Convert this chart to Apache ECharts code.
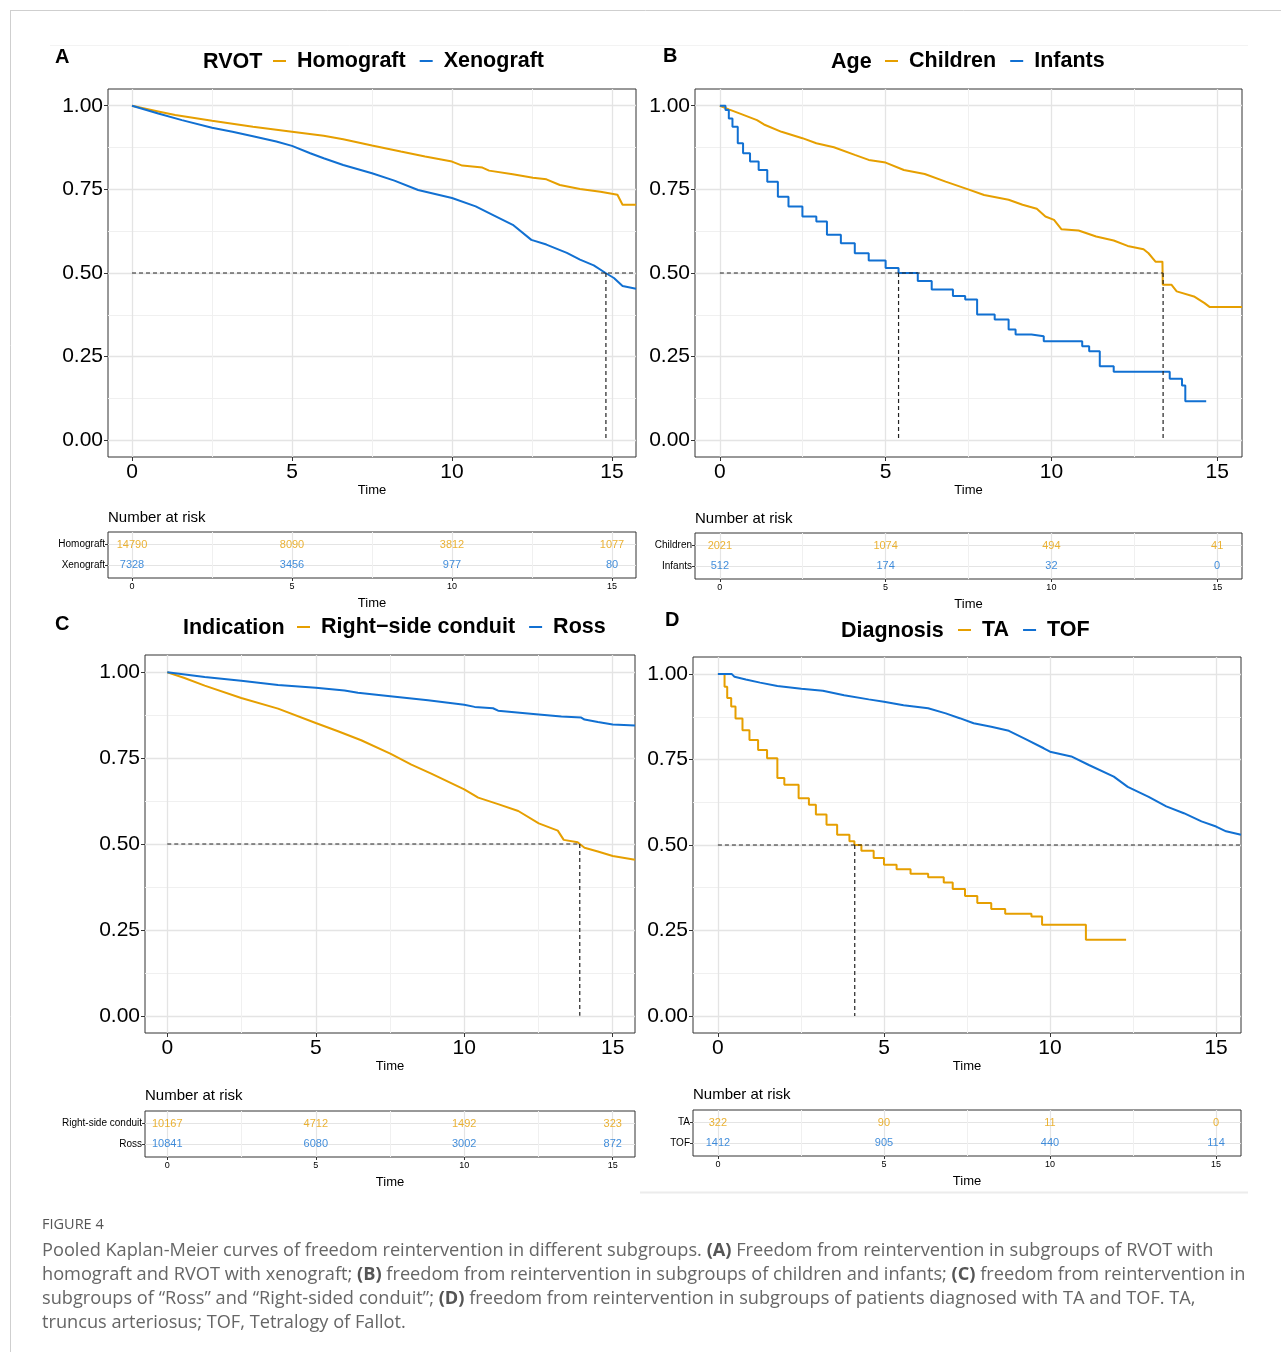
<!DOCTYPE html>
<html>
<head>
<meta charset="utf-8">
<script src="https://cdn.jsdelivr.net/npm/echarts@6/dist/echarts.min.js"></script>
<style>
html,body{margin:0;padding:0;background:#fff;}
#chart{width:1281px;height:1352px;}
</style>
</head>
<body>
<div id="chart"></div>
<script>
// ---------------- DATA ----------------
const xTicks = [0, 5, 10, 15];
const xMinorTicks = [2.5, 7.5, 12.5];
const yTicks = [0, 0.25, 0.5, 0.75, 1];
const yMinorTicks = [0.125, 0.375, 0.625, 0.875];
const riskTimes = [0, 5, 10, 15];

// Panel A: RVOT
const titleA = 'RVOT';
const groupsA = ['Homograft', 'Xenograft'];
const tA_homo = [0,0.82,1.35,2.5,3.78,5,5.99,6.6,7.5,8.4,9.16,10,10.32,10.95,11.16,11.9,12.53,12.95,13.37,14.0,14.64,15.17,15.33,15.75];
const sA_homo = [1,0.983,0.972,0.955,0.937,0.922,0.910,0.900,0.881,0.863,0.848,0.833,0.821,0.815,0.806,0.795,0.785,0.780,0.763,0.751,0.743,0.734,0.704,0.704];
const tA_xeno = [0,0.82,1.56,2.5,3.14,3.78,4.51,5,5.57,5.99,6.6,7.5,8.2,8.94,10,10.74,11.27,11.9,12.48,12.95,13.59,14.0,14.43,14.8,15.06,15.33,15.75];
const sA_xeno = [1,0.977,0.957,0.934,0.922,0.909,0.893,0.880,0.858,0.843,0.823,0.798,0.776,0.748,0.724,0.699,0.674,0.644,0.599,0.585,0.560,0.540,0.523,0.500,0.485,0.461,0.453];
const riskA_homo = [14790, 8090, 3812, 1077];
const riskA_xeno = [7328, 3456, 977, 80];
const medianA = [14.81];

// Panel B: Age
const titleB = 'Age';
const groupsB = ['Children', 'Infants'];
const tB_ch = [0,0.27,0.59,1.12,1.33,1.86,2.49,2.91,3.44,4.07,4.49,5,5.55,6.18,6.81,7.49,7.97,8.71,9.13,9.56,9.82,10.08,10.3,10.82,11.35,11.88,12.3,12.78,12.93,13.14,13.35,13.36,13.62,13.78,14.3,14.62,14.78,15.75];
const sB_ch = [1,0.989,0.977,0.957,0.944,0.922,0.903,0.888,0.876,0.853,0.838,0.830,0.808,0.796,0.773,0.750,0.733,0.719,0.704,0.692,0.669,0.659,0.631,0.627,0.609,0.597,0.581,0.571,0.559,0.534,0.534,0.465,0.465,0.445,0.43,0.41,0.398,0.398];
const tB_inf = [0,0.17,0.27,0.38,0.54,0.7,0.91,1.17,1.43,1.75,2.07,2.49,2.91,3.23,3.65,4.07,4.49,5,5.39,5.97,6.39,7.03,7.4,7.76,8.29,8.71,8.92,9.4,9.77,10.93,11.14,11.46,11.88,13.57,13.94,14.04,14.67];
const sB_inf = [1,0.987,0.962,0.937,0.888,0.858,0.833,0.808,0.773,0.728,0.699,0.669,0.654,0.614,0.589,0.559,0.537,0.515,0.50,0.476,0.451,0.431,0.421,0.376,0.361,0.331,0.316,0.311,0.296,0.281,0.266,0.221,0.205,0.184,0.164,0.117,0.117];
const riskB_ch = [2021, 1074, 494, 41];
const riskB_inf = [512, 174, 32, 0];
const medianB = [13.37, 5.39];

// Panel C: Indication
const titleC = 'Indication';
const groupsC = ['Right\u2212side conduit', 'Ross'];
const rowsC = ['Right-side conduit', 'Ross'];
const tC_rsc = [0,0.58,1.26,2.49,3.73,5,5.75,6.53,7.51,8.22,8.89,10,10.47,11.14,11.82,12.51,13.15,13.35,13.82,13.89,14.05,14.5,15,15.75];
const sC_rsc = [1,0.983,0.961,0.925,0.894,0.852,0.828,0.802,0.763,0.731,0.705,0.659,0.635,0.616,0.596,0.560,0.539,0.512,0.505,0.500,0.489,0.478,0.465,0.454];
const tC_ross = [0,1.26,2.49,3.73,5,5.97,6.42,7.51,8.78,10,10.35,10.97,11.14,12.51,13.27,13.94,14.05,14.5,15,15.75];
const sC_ross = [1,0.986,0.975,0.963,0.955,0.947,0.940,0.930,0.918,0.905,0.899,0.895,0.888,0.877,0.871,0.868,0.862,0.855,0.848,0.845];
const riskC_rsc = [10167, 4712, 1492, 323];
const riskC_ross = [10841, 6080, 3002, 872];
const medianC = [13.89];

// Panel D: Diagnosis
const titleD = 'Diagnosis';
const groupsD = ['TA', 'TOF'];
const tD_ta = [0,0.2,0.28,0.4,0.53,0.74,0.95,1.21,1.48,1.79,2.0,2.43,2.74,2.95,3.27,3.59,3.96,4.11,4.32,4.69,5,5.38,5.8,6.33,6.8,7.07,7.44,7.81,8.23,8.65,9.44,9.76,11.08,12.29];
const sD_ta = [1,0.963,0.93,0.905,0.870,0.836,0.807,0.778,0.754,0.696,0.676,0.637,0.618,0.589,0.559,0.530,0.511,0.50,0.483,0.462,0.442,0.429,0.416,0.406,0.390,0.371,0.351,0.330,0.313,0.299,0.291,0.267,0.223,0.223];
const tD_tof = [0,0.42,0.5,0.84,1.27,1.79,2.51,3.16,3.8,4.54,5,5.59,6.33,6.86,7.28,7.7,8.23,8.76,9.28,9.81,10,10.64,11.17,11.92,12.34,12.97,13.5,14.03,14.56,15,15.3,15.75];
const sD_tof = [1,1,0.992,0.984,0.975,0.965,0.957,0.951,0.938,0.926,0.919,0.909,0.900,0.885,0.871,0.856,0.846,0.834,0.809,0.783,0.773,0.759,0.734,0.700,0.670,0.641,0.613,0.593,0.569,0.554,0.540,0.530];
const riskD_ta = [322, 90, 11, 0];
const riskD_tof = [1412, 905, 440, 114];
const medianD = [4.12];

const captionHead = 'FIGURE 4';
const captionLines = [
  'Pooled Kaplan-Meier curves of freedom reintervention in different subgroups. {b|(A)} Freedom from reintervention in subgroups of RVOT with',
  'homograft and RVOT with xenograft; {b|(B)} freedom from reintervention in subgroups of children and infants; {b|(C)} freedom from reintervention in',
  'subgroups of \u201cRoss\u201d and \u201cRight-sided conduit\u201d; {b|(D)} freedom from reintervention in subgroups of patients diagnosed with TA and TOF. TA,',
  'truncus arteriosus; TOF, Tetralogy of Fallot.'
];

// ---------------- STYLE / LAYOUT ----------------
const ORANGE = '#E69F00';
const BLUE = '#1170D2';
const FONT = "'Liberation Sans', Arial, Helvetica, sans-serif";
const X_MIN = -0.75, X_MAX = 15.75;
const Y_MIN = -0.05, Y_MAX = 1.05;

const panels = [
  { key:'A', title:titleA, groups:groupsA, rows:groupsA,
    curves:[[tA_homo,sA_homo,false],[tA_xeno,sA_xeno,false]], risk:[riskA_homo,riskA_xeno], medians:medianA, hToEdge:true,
    main:{left:108,top:89,width:528,height:368}, riskBox:{left:108,top:532,width:528,height:46},
    letter:[55,47], legTitle:[203,51], leg:[273,50], nar:[108,510] },
  { key:'B', title:titleB, groups:groupsB, rows:groupsB,
    curves:[[tB_ch,sB_ch,false],[tB_inf,sB_inf,true]], risk:[riskB_ch,riskB_inf], medians:medianB, hToEdge:false,
    main:{left:695,top:89,width:547,height:368}, riskBox:{left:695,top:533,width:547,height:46},
    letter:[663,46], legTitle:[831,51], leg:[885,50], nar:[695,511] },
  { key:'C', title:titleC, groups:groupsC, rows:rowsC,
    curves:[[tC_rsc,sC_rsc,false],[tC_ross,sC_ross,false]], risk:[riskC_rsc,riskC_ross], medians:medianC, hToEdge:false,
    main:{left:145,top:655,width:490,height:378}, riskBox:{left:145,top:1111,width:490,height:46},
    letter:[55,614], legTitle:[183,617], leg:[297,616], nar:[145,1088] },
  { key:'D', title:titleD, groups:groupsD, rows:groupsD,
    curves:[[tD_ta,sD_ta,true],[tD_tof,sD_tof,false]], risk:[riskD_ta,riskD_tof], medians:medianD, hToEdge:true,
    main:{left:693,top:657,width:548,height:376}, riskBox:{left:693,top:1110,width:548,height:46},
    letter:[665,610], legTitle:[841,620], leg:[958,619], nar:[693,1087] }
];
const colors = [ORANGE, BLUE];

const grid = [], xAxis = [], yAxis = [], series = [], legend = [], title = [];

function zip(t, s) {
  const n = Math.min(t.length, s.length), out = [];
  for (let i = 0; i < n; i++) out.push([t[i], s[i]]);
  return out;
}
const fmtY = v => v.toFixed(2);
const noLine = {show:false, onZero:false};

panels.forEach((p, pi) => {
  const gMain = grid.length;
  grid.push(Object.assign({ show:true, borderColor:'#333', borderWidth:1, backgroundColor:'#fff', z:0 }, p.main));
  const gRisk = grid.length;
  grid.push(Object.assign({ show:true, borderColor:'#333', borderWidth:1, backgroundColor:'#fff', z:0 }, p.riskBox));

  // main x axes
  const xMain = xAxis.length;
  xAxis.push({ gridIndex:gMain, type:'value', min:X_MIN, max:X_MAX, position:'bottom',
    axisLine:noLine,
    axisTick:{show:true, customValues:xTicks, length:4, lineStyle:{color:'#333', width:1}},
    axisLabel:{customValues:xTicks, fontSize:21, color:'#000', margin:5, fontFamily:FONT},
    splitLine:{show:true, lineStyle:{color:'#e4e4e4', width:1.3}},
    name:'Time', nameLocation:'middle', nameGap:27, nameTextStyle:{fontSize:13, color:'#000', fontFamily:FONT} });
  xAxis.push({ gridIndex:gMain, type:'value', min:X_MIN, max:X_MAX, position:'top',
    axisLine:noLine, axisTick:{show:false, customValues:xMinorTicks}, axisLabel:{show:false, customValues:xMinorTicks},
    splitLine:{show:true, lineStyle:{color:'#f0f0f0', width:1}} });
  const yMain = yAxis.length;
  yAxis.push({ gridIndex:gMain, type:'value', min:Y_MIN, max:Y_MAX, position:'left',
    axisLine:noLine,
    axisTick:{show:true, customValues:yTicks, length:4, lineStyle:{color:'#333', width:1}},
    axisLabel:{customValues:yTicks, formatter:fmtY, fontSize:21, color:'#000', margin:5, fontFamily:FONT},
    splitLine:{show:true, lineStyle:{color:'#e4e4e4', width:1.3}} });
  yAxis.push({ gridIndex:gMain, type:'value', min:Y_MIN, max:Y_MAX, position:'right',
    axisLine:noLine, axisTick:{show:false, customValues:yMinorTicks}, axisLabel:{show:false, customValues:yMinorTicks},
    splitLine:{show:true, lineStyle:{color:'#f0f0f0', width:1}} });

  // risk axes
  const xRisk = xAxis.length;
  xAxis.push({ gridIndex:gRisk, type:'value', min:X_MIN, max:X_MAX, position:'bottom',
    axisLine:noLine,
    axisTick:{show:true, customValues:riskTimes, length:3, lineStyle:{color:'#333', width:1}},
    axisLabel:{customValues:riskTimes, fontSize:9, color:'#000', margin:4, fontFamily:FONT},
    splitLine:{show:true, lineStyle:{color:'#e4e4e4', width:1.2}},
    name:'Time', nameLocation:'middle', nameGap:19, nameTextStyle:{fontSize:13, color:'#000', fontFamily:FONT} });
  xAxis.push({ gridIndex:gRisk, type:'value', min:X_MIN, max:X_MAX, position:'top',
    axisLine:noLine, axisTick:{show:false, customValues:xMinorTicks}, axisLabel:{show:false, customValues:xMinorTicks},
    splitLine:{show:true, lineStyle:{color:'#f0f0f0', width:1}} });
  const yRisk = yAxis.length;
  const rows = p.rows;
  yAxis.push({ gridIndex:gRisk, type:'value', min:-0.6, max:1.6, inverse:true, position:'left',
    axisLine:noLine,
    axisTick:{show:true, customValues:[0,1], length:3, lineStyle:{color:'#333', width:1}},
    axisLabel:{customValues:[0,1], formatter:v => rows[Math.round(v)], fontSize:10, color:'#000', margin:3, fontFamily:FONT},
    splitLine:{show:true, lineStyle:{color:'#e4e4e4', width:1.2}} });

  // curves
  p.curves.forEach((c, ci) => {
    series.push({ name:p.groups[ci], type:'line', xAxisIndex:xMain, yAxisIndex:yMain,
      data:zip(c[0], c[1]), step:c[2] ? 'end' : false, showSymbol:false, symbol:'none',
      lineStyle:{color:colors[ci], width:2}, itemStyle:{color:colors[ci]}, z:3, silent:true });
  });

  // median lines
  const hEnd = p.hToEdge ? X_MAX : Math.max.apply(null, p.medians);
  const dashStyle = {color:'#222', width:1.2, type:[4,3]};
  series.push({ name:'med_h_' + p.key, type:'line', xAxisIndex:xMain, yAxisIndex:yMain,
    data:[[0,0.5],[hEnd,0.5]], showSymbol:false, symbol:'none', lineStyle:dashStyle, z:4, silent:true });
  p.medians.forEach((m, mi) => {
    series.push({ name:'med_v_' + p.key + mi, type:'line', xAxisIndex:xMain, yAxisIndex:yMain,
      data:[[m,0.5],[m,0]], showSymbol:false, symbol:'none', lineStyle:dashStyle, z:4, silent:true });
  });

  // risk table numbers
  p.risk.forEach((r, ri) => {
    series.push({ name:'risk_' + p.key + ri, type:'scatter', xAxisIndex:xRisk, yAxisIndex:yRisk,
      data:r.map((v, i) => [riskTimes[i], ri, v]), symbolSize:1, itemStyle:{color:'rgba(0,0,0,0)'},
      label:{show:true, position:'inside', formatter:o => String(o.value[2]), color:colors[ri], fontSize:11, fontFamily:FONT},
      z:5, silent:true });
  });

  // legend
  legend.push({ data:p.groups, left:p.leg[0], top:p.leg[1], orient:'horizontal', padding:0,
    icon:'rect', itemWidth:13, itemHeight:2, itemGap:14, selectedMode:false,
    textStyle:{fontSize:21.5, fontWeight:'bold', color:'#000', fontFamily:FONT, padding:[0,0,0,6]} });

  // titles
  title.push({ text:p.key, left:p.letter[0], top:p.letter[1], padding:0,
    textStyle:{fontSize:20, fontWeight:'bold', color:'#000', fontFamily:FONT} });
  title.push({ text:p.title, left:p.legTitle[0], top:p.legTitle[1], padding:0,
    textStyle:{fontSize:21.5, fontWeight:'bold', color:'#000', fontFamily:FONT} });
  title.push({ text:'Number at risk', left:p.nar[0], top:p.nar[1], padding:0,
    textStyle:{fontSize:15, fontWeight:'normal', color:'#000', fontFamily:FONT} });
});

// caption and page frame
const CAP_FONT = "'Open Sans', Lato, sans-serif";
const graphic = [
  { type:'line', shape:{x1:10, y1:10.5, x2:1281, y2:10.5}, style:{stroke:'#cfcfcf', lineWidth:1}, silent:true },
  { type:'line', shape:{x1:10.5, y1:10, x2:10.5, y2:1352}, style:{stroke:'#cfcfcf', lineWidth:1}, silent:true },
  { type:'line', shape:{x1:50, y1:45.5, x2:1248, y2:45.5}, style:{stroke:'#f3f3f3', lineWidth:1}, silent:true },
  { type:'line', shape:{x1:640, y1:1192.5, x2:1248, y2:1192.5}, style:{stroke:'#ececec', lineWidth:2}, silent:true },
  { type:'text', left:42, top:1217, style:{text:captionHead, fill:'#555', fontSize:14.5, fontFamily:CAP_FONT}, silent:true }
];
captionLines.forEach((ln, i) => {
  graphic.push({ type:'text', left:42, top:1242 + i * 24,
    style:{text:ln, fill:'#666', fontSize:18.2, fontFamily:CAP_FONT,
      rich:{b:{fontWeight:'bold', fill:'#555', fontSize:18.2, fontFamily:CAP_FONT}}}, silent:true });
});

const chart = echarts.init(document.getElementById('chart'), null, {renderer:'canvas'});
chart.setOption({
  animation:false,
  backgroundColor:'#fff',
  textStyle:{fontFamily:FONT},
  title, legend, grid, xAxis, yAxis, series, graphic
});
</script>
</body>
</html>
